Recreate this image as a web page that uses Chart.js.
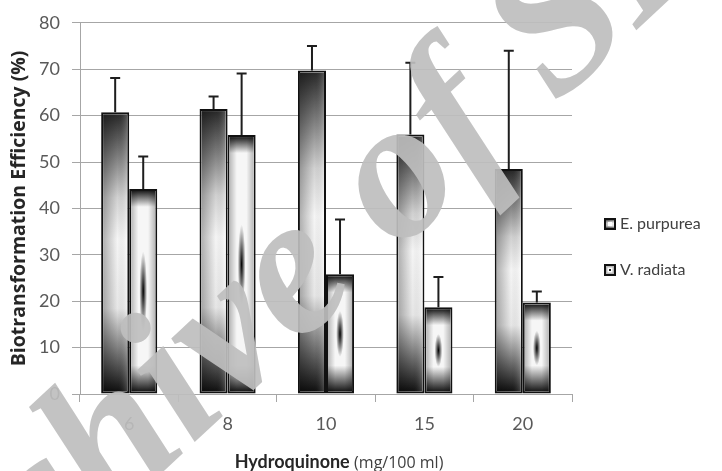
<!DOCTYPE html>
<html>
<head>
<meta charset="utf-8">
<script src="https://cdn.jsdelivr.net/npm/chart.js@4"></script>
<style>
  html, body { margin: 0; padding: 0; background: #fff; }
  #wrap { width: 722px; height: 471px; }
</style>
</head>
<body>
<div id="wrap"><canvas id="bioChart"></canvas></div>
<script>
/* ---------- data ---------- */
const doses      = ['6', '8', '10', '15', '20'];
const purpurea   = [60.7, 61.4, 69.7, 55.9, 48.5];
const purpureaSd = [7.4, 2.7, 5.3, 15.5, 25.5];
const radiata    = [44.2, 55.8, 25.8, 18.7, 19.7];
const radiataSd  = [7.0, 13.3, 11.8, 6.5, 2.4];
const yTicks     = [0, 10, 20, 30, 40, 50, 60, 70, 80];

const FONT = 'Lato, "Open Sans", sans-serif';
const WIDE = '"Open Sans", Lato, sans-serif';

/* ---------- fills ---------- */
function fillPurpurea(ctx, x0, y0, w, h) {
  let g = ctx.createLinearGradient(0, y0, 0, y0 + h);
  g.addColorStop(0, '#2a2a2a');
  g.addColorStop(0.3, '#d8d8d8');
  g.addColorStop(0.45, '#fdfdfd');
  g.addColorStop(0.7, '#eeeeee');
  g.addColorStop(1, '#101010');
  ctx.fillStyle = g;
  ctx.fillRect(x0, y0, w, h);
  let hg = ctx.createLinearGradient(x0, 0, x0 + w, 0);
  hg.addColorStop(0, 'rgba(0,0,0,0.3)');
  hg.addColorStop(0.6, 'rgba(0,0,0,0.03)');
  hg.addColorStop(1, 'rgba(255,255,255,0.2)');
  ctx.fillStyle = hg;
  ctx.fillRect(x0, y0, w, h);
}

function fillRadiata(ctx, x0, y0, w, h) {
  let g = ctx.createLinearGradient(0, y0, 0, y0 + h);
  g.addColorStop(0, '#1e1e1e');
  g.addColorStop(Math.min(0.3, 16 / h), '#f6f6f6');
  g.addColorStop(Math.max(0.7, 1 - 26 / h), '#f6f6f6');
  g.addColorStop(1, '#161616');
  ctx.fillStyle = g;
  ctx.fillRect(x0, y0, w, h);
  let hg = ctx.createLinearGradient(x0, 0, x0 + w, 0);
  hg.addColorStop(0, 'rgba(0,0,0,0.25)');
  hg.addColorStop(0.3, 'rgba(0,0,0,0)');
  hg.addColorStop(0.7, 'rgba(0,0,0,0)');
  hg.addColorStop(1, 'rgba(0,0,0,0.25)');
  ctx.fillStyle = hg;
  ctx.fillRect(x0, y0, w, h);
  // dark streak in the middle
  ctx.save();
  ctx.beginPath();
  ctx.rect(x0, y0, w, h);
  ctx.clip();
  const cx = x0 + w / 2, cy = y0 + h / 2;
  const ry = Math.min(h * 0.2, 40);
  const rx = w * 0.16;
  ctx.translate(cx, cy);
  ctx.scale(rx / ry, 1);
  let rg = ctx.createRadialGradient(0, 0, 0, 0, 0, ry);
  rg.addColorStop(0, 'rgba(0,0,0,1)');
  rg.addColorStop(0.45, 'rgba(0,0,0,0.55)');
  rg.addColorStop(1, 'rgba(0,0,0,0)');
  ctx.fillStyle = rg;
  ctx.beginPath();
  ctx.arc(0, 0, ry, 0, Math.PI * 2);
  ctx.fill();
  ctx.restore();
}

function drawLegendIcon(k, kind, x, y) {
  k.fillStyle = '#fff';
  k.fillRect(x, y, 10, 10);
  if (kind === 0) {
    fillPurpurea(k, x, y, 10, 10);
    k.fillStyle = '#fff';
    k.fillRect(x + 3, y + 3, 4, 4);
  } else {
    k.fillStyle = '#bbb';
    k.fillRect(x, y, 10, 10);
    k.fillStyle = '#fff';
    k.fillRect(x + 2.5, y + 2.5, 5, 5);
    k.fillStyle = '#222';
    k.fillRect(x + 4, y + 4, 2, 2);
  }
  k.strokeStyle = '#111';
  k.lineWidth = 2;
  k.strokeRect(x, y, 10, 10);
}

/* ---------- plugins ---------- */
const barPaint = {
  id: 'barPaint',
  afterDatasetsDraw(chart) {
    const ctx = chart.ctx;
    const yScale = chart.scales.y;
    chart.data.datasets.forEach((ds, di) => {
      const meta = chart.getDatasetMeta(di);
      meta.data.forEach((bar) => {
        const p = bar.getProps(['x', 'y', 'base', 'width'], true);
        const bw = 2;
        const x0 = p.x - p.width / 2 + bw, w = p.width - 2 * bw;
        const y0 = p.y + bw, h = p.base - p.y - 2 * bw;
        ctx.save();
        if (di === 0) fillPurpurea(ctx, x0, y0, w, h);
        else fillRadiata(ctx, x0, y0, w, h);
        ctx.restore();
      });
    });
    // error bars (upper only)
    ctx.save();
    ctx.strokeStyle = '#1e1e1e';
    ctx.lineWidth = 2;
    chart.data.datasets.forEach((ds, di) => {
      const meta = chart.getDatasetMeta(di);
      meta.data.forEach((bar, i) => {
        const p = bar.getProps(['x', 'y'], true);
        const top = yScale.getPixelForValue(ds.data[i] + ds.errors[i]);
        ctx.beginPath();
        ctx.moveTo(p.x, p.y);
        ctx.lineTo(p.x, top);
        ctx.moveTo(p.x - 5, top);
        ctx.lineTo(p.x + 5, top);
        ctx.stroke();
      });
    });
    ctx.restore();
  },
  afterDraw(chart) {
    const ctx = chart.ctx;
    const area = chart.chartArea;
    // legend on the right
    ctx.save();
    ctx.font = '16px ' + FONT;
    ctx.textBaseline = 'middle';
    chart.data.datasets.forEach((ds, di) => {
      const cy = 224 + di * 46;
      const x = area.right + 33;
      drawLegendIcon(ctx, di, x, cy - 5);
      ctx.fillStyle = '#404040';
      ctx.fillText(ds.label, x + 15, cy);
    });
    ctx.restore();
    // x axis title with mixed fonts
    ctx.save();
    const t1 = 'Hydroquinone ', t2 = '(mg/100 ml)';
    const f1 = 'bold 18px ' + FONT, f2 = '16px ' + WIDE;
    ctx.font = f1; const w1 = ctx.measureText(t1).width;
    ctx.font = f2; const w2 = ctx.measureText(t2).width;
    let x = (area.left + area.right) / 2 + 13 - (w1 + w2) / 2;
    const yb = 468;
    ctx.textBaseline = 'alphabetic';
    ctx.fillStyle = '#262626';
    ctx.font = f1; ctx.fillText(t1, x, yb);
    ctx.fillStyle = '#404040';
    ctx.font = f2; ctx.fillText(t2, x + w1, yb);
    ctx.restore();
    // watermark, anchored on the "o" of "of"
    ctx.save();
    ctx.translate(403, 185);
    ctx.rotate(-43 * Math.PI / 180);
    ctx.font = 'italic bold 200px "Liberation Serif", serif';
    ctx.fillStyle = 'rgba(190,190,190,0.92)';
    ctx.fillText('Archive of SID', -744, 46);
    ctx.restore();
  }
};

/* ---------- chart ---------- */
new Chart(document.getElementById('bioChart'), {
  type: 'bar',
  data: {
    labels: doses,
    datasets: [
      {
        label: 'E. purpurea',
        data: purpurea,
        errors: purpureaSd,
        backgroundColor: '#ffffff',
        borderColor: '#111',
        borderWidth: 2,
        borderSkipped: false,
      },
      {
        label: 'V. radiata',
        data: radiata,
        errors: radiataSd,
        backgroundColor: '#ffffff',
        borderColor: '#111',
        borderWidth: 2,
        borderSkipped: false,
      },
    ],
  },
  options: {
    responsive: true,
    maintainAspectRatio: false,
    animation: false,
    layout: { padding: { left: 0, top: 18, right: 150, bottom: 0 } },
    datasets: { bar: { categoryPercentage: 0.57, barPercentage: 1.0 } },
    plugins: {
      legend: { display: false },
      tooltip: { enabled: false },
    },
    scales: {
      x: {
        afterFit: (scale) => { scale.height = 77; },
        grid: {
          offset: true,
          drawOnChartArea: false,
          drawTicks: true,
          tickLength: 8,
          color: '#a6a6a6',
        },
        border: { color: '#a6a6a6' },
        ticks: { color: '#595959', font: { family: FONT, size: 18 }, padding: 11 },
      },
      y: {
        min: 0,
        max: 80,
        afterBuildTicks: (scale) => { scale.ticks = yTicks.map(v => ({ value: v })); },
        afterFit: (scale) => { scale.width = 80; },
        grid: { color: '#a6a6a6', tickLength: 8 },
        border: { color: '#a6a6a6' },
        ticks: { color: '#595959', font: { family: FONT, size: 18 }, padding: 12 },
        title: {
          display: true,
          text: 'Biotransformation Efficiency (%)',
          color: '#262626',
          font: { family: WIDE, size: 19.5, weight: 'bold' },
          padding: { top: 8, bottom: 0 },
        },
      },
    },
  },
  plugins: [barPaint],
});
</script>
</body>
</html>
